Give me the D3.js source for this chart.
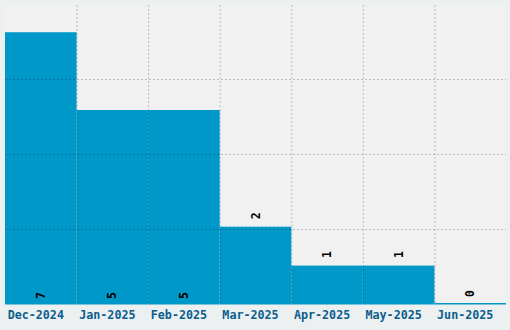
<!DOCTYPE html>
<html><head><meta charset="utf-8">
<script src="https://cdn.jsdelivr.net/npm/d3@7"></script>
<style>html,body{margin:0;padding:0;background:#ecf0f1;}svg{display:block;}</style>
</head><body>
<script>
const categories = ["Dec-2024","Jan-2025","Feb-2025","Mar-2025","Apr-2025","May-2025","Jun-2025"];
const values = [7,5,5,2,1,1,0];
const yMax = 7.7;

const W = 510, H = 330;
const m = {top:5, right:4, bottom:25.5, left:5};
const svg = d3.select("body").append("svg").attr("width",W).attr("height",H);
svg.append("rect").attr("width",W).attr("height",H).attr("fill","#ecf0f1");
const pw = W-m.left-m.right, ph = H-m.top-m.bottom;
const g = svg.append("g").attr("transform",`translate(${m.left},${m.top})`);
g.append("rect").attr("width",pw).attr("height",ph).attr("fill","#f1f1f1");

const x = d3.scaleBand().domain(categories).range([0,pw]).padding(0);
const y = d3.scaleLinear().domain([0,yMax]).range([ph,0]);

const data = categories.map((c,i)=>({c, v:values[i]}));
g.selectAll("rect.bar").data(data).join("rect").attr("class","bar")
  .attr("x",d=>x(d.c)).attr("width",x.bandwidth())
  .attr("y",d=>Math.min(y(d.v), ph-1.5)).attr("height",d=>Math.max(ph-y(d.v),1.5))
  .attr("fill","#0098c8");

// grid
const grid = g.append("g");
const gridStroke = "rgba(0,0,0,0.22)";
categories.slice(1).forEach(c=>{
  grid.append("line").attr("x1",x(c)+0.5).attr("x2",x(c)+0.5).attr("y1",0).attr("y2",ph)
    .attr("stroke",gridStroke).attr("stroke-dasharray","2,2");
});
[1,2,3].forEach(k=>{
  const yy = Math.round(ph*k/4)-0.5;
  grid.append("line").attr("x1",0).attr("x2",pw).attr("y1",yy).attr("y2",yy)
    .attr("stroke",gridStroke).attr("stroke-dasharray","2,2");
});

// value labels
g.selectAll("text.val").data(data).join("text").attr("class","val")
  .attr("transform",d=>{
    const cx = x(d.c)+x.bandwidth()/2;
    const cy = d.v>=3 ? ph-9 : y(d.v)-11;
    return `translate(${cx+4},${cy}) rotate(-90)`;
  })
  .attr("text-anchor","middle")
  .attr("font-family","DejaVu Sans Mono").attr("font-weight","bold").attr("font-size","11.5px")
  .attr("fill","#000").text(d=>d.v);

// x axis
const xa = g.append("g").attr("transform",`translate(0,${ph})`).call(d3.axisBottom(x).tickSize(0).tickPadding(0));
xa.select(".domain").remove();
xa.selectAll("text").attr("dy",0).attr("y",14.5).attr("x",-5)
  .attr("font-family","DejaVu Sans Mono").attr("font-weight","bold").attr("font-size","11.7px")
  .attr("fill","#0b5e8e");
</script>
</body></html>
